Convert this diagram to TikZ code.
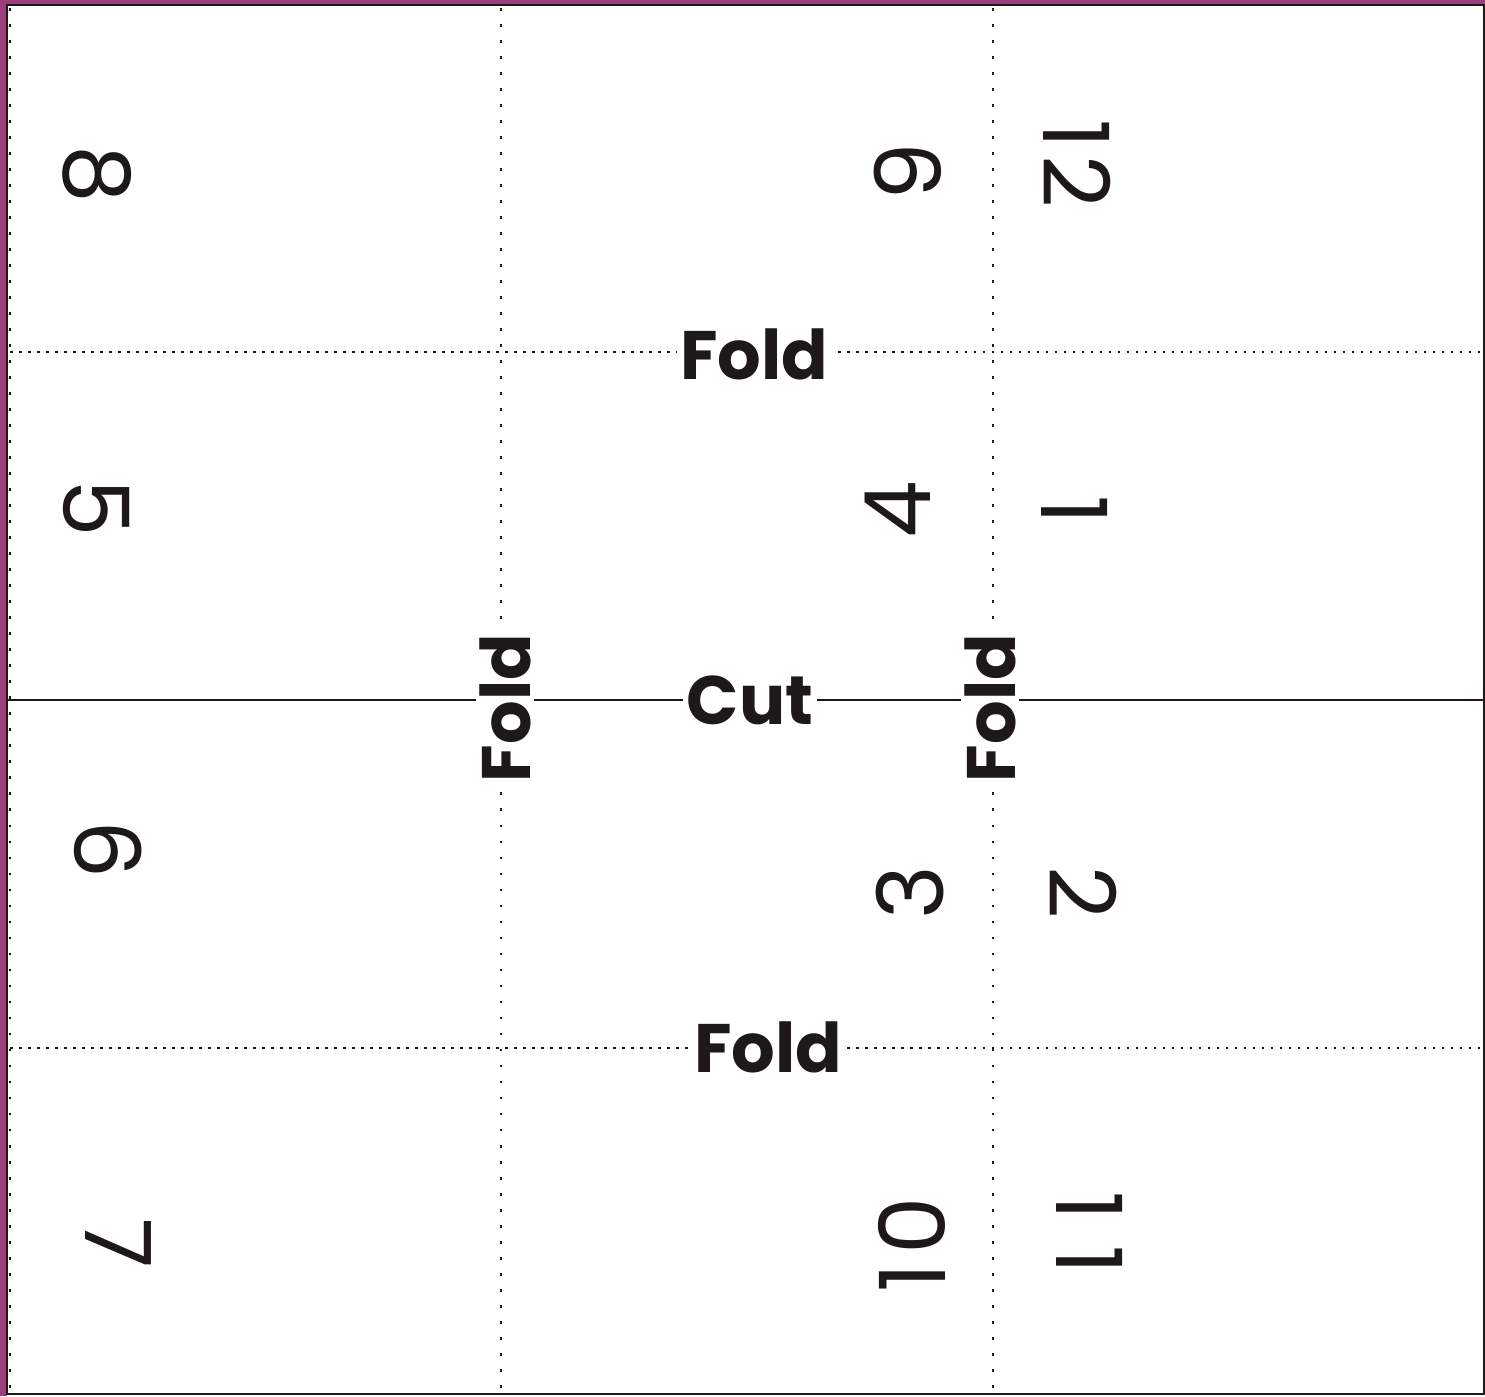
\documentclass[tikz,border=0pt]{standalone}
\usepackage{fontspec}
\setmainfont{Poppins}
\definecolor{plum}{RGB}{155,62,122}
\definecolor{ink}{RGB}{30,25,25}
\tikzset{
  foldv/.style={ink, line width=0.028cm, dash pattern=on 0.028cm off 0.132cm},
  foldh/.style={ink, line width=0.025cm, dash pattern=on 0.025cm off 0.065cm},
  cutline/.style={ink, line width=0.022cm},
  pagenum/.style={text=ink, font=\fontsize{26}{30}\selectfont, inner sep=0pt},
  foldlabel/.style={text=ink, font=\bfseries\fontsize{19.5}{22}\selectfont, fill=white, inner sep=1pt}
}
\begin{document}
\begin{tikzpicture}[x=0.01cm,y=-0.01cm]
        \useasboundingbox (0,0) rectangle (1485,1396);
        % frame
        \fill[plum] (0,0) rectangle (1485,1396);
        \fill[white] (7,5) rectangle (1485,1396);
        \draw[ink, line width=0.02cm] (7,5) rectangle (1484,1394);

        % line
        \draw[foldv] (10,8) -- (10,1392);
        \draw[foldv] (501,8) -- (501,1392);\draw[foldv] (993,8) -- (993,1392);
        \draw[foldh] (10,352) -- (1483,352);\draw[foldh] (10,1048) -- (1483,1048);
        \draw[cutline] (8,700) -- (1483,700);

        % lecter
        \node[foldlabel] (foldtop) at (754,354) {Fold};
        \node[foldlabel] (foldbot) at (768,1047) {Fold};
        \node[foldlabel] (cut) at (750,700) {Cut};
        \node[foldlabel, rotate=90] (foldleft) at (505,708) {Fold};
        \node[foldlabel, rotate=90] (foldright) at (990,708) {Fold};

        % pages
        \node[pagenum, rotate=-90] (p8) at (97,174) {8};
        \node[pagenum, rotate=-90] (p5) at (97,508) {5};
        \node[pagenum, rotate=-90] (p6) at (108,850) {6};
        \node[pagenum, rotate=-90] (p7) at (118,1243) {7};
        \node[pagenum, rotate=90] (p9) at (908,172) {9};
        \node[pagenum, rotate=90] (p4) at (898,510) {4};
        \node[pagenum, rotate=90] (p3) at (910,893) {3};
        \node[pagenum, rotate=90] (p10) at (912,1245) {1\kern0.1em0};
        \node[pagenum, rotate=-90] (p12) at (1077,164) {1\kern0.07em2};
        \node[pagenum, rotate=-90] (p1) at (1075,510) {1};
        \node[pagenum, rotate=-90] (p2) at (1083,893) {2};
        \node[pagenum, rotate=-90] (p11) at (1090,1233) {1\kern0.27em1};
\end{tikzpicture}
\end{document}
